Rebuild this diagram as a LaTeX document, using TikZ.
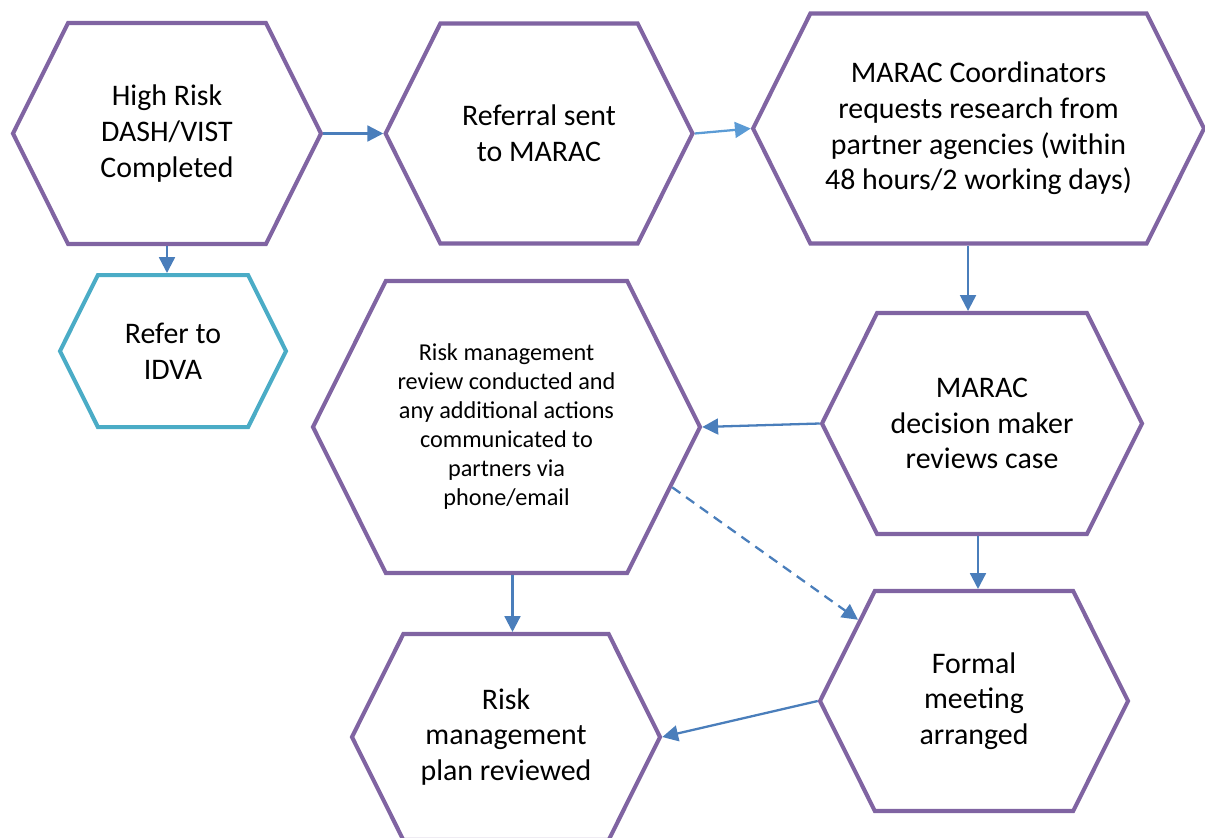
\documentclass[tikz,border=0pt]{standalone}
\usepackage{fontspec}
\setmainfont{Carlito}
\usetikzlibrary{positioning,shapes.symbols,arrows.meta}

\definecolor{hexpurple}{HTML}{8064A2}
\definecolor{hexteal}{HTML}{4BACC6}
\definecolor{linkblue}{HTML}{4A7EBB}
\definecolor{linklight}{HTML}{5B9BD5}

\tikzset{
  hexbox/.style 2 args={signal, signal to=west and east, signal pointer angle=127,
    draw=hexpurple, line width=2.3pt, align=center, inner sep=2pt,
    minimum width=#1, minimum height=#2, font=\fontsize{17}{20.3}\selectfont},
  smalltext/.style={font=\fontsize{13.8}{16.5}\selectfont},
  link/.style={draw=linkblue, line width=1.3pt, -{Triangle[length=9pt,width=9pt]}},
}

\begin{document}
\begin{tikzpicture}
        \useasboundingbox (0,0) rectangle (24.1,-16.74);

        % top row
        \node[hexbox={6.16cm}{4.42cm}] (highrisk) at (3.34,-2.67) {High Risk\\DASH/VIST\\Completed};
        \node[hexbox={6.14cm}{4.40cm}, right = 1.2cm of highrisk] (referral) {Referral sent\\to MARAC};
        \node[hexbox={9.02cm}{4.60cm}, right = 1.12cm of referral, yshift=0.1cm] (coordinators) {MARAC Coordinators\\requests research from\\partner agencies (within\\48 hours/2 working days)};

        \node[hexbox={4.52cm}{3.04cm}, draw=hexteal, below = 0.54cm of highrisk, xshift=0.12cm] (idva) {Refer to\\IDVA};

        % middle and bottom
        \node[hexbox={7.74cm}{5.84cm}, smalltext] (review) at (10.13,-8.54) {Risk management\\review conducted and\\any additional actions\\communicated to\\partners via\\phone/email};
        \node[hexbox={6.40cm}{4.42cm}] (decision) at (19.64,-8.47) {MARAC\\decision maker\\reviews case};
        \node[hexbox={6.16cm}{4.40cm}] (meeting) at (19.48,-14.02) {Formal\\meeting\\arranged};
        \node[hexbox={6.16cm}{4.12cm}] (plan) at (10.12,-14.74) {Risk\\management\\plan reviewed};

        \draw[link] (highrisk.east) -- (referral.west);
        \draw[link, draw=linklight] (referral.east) -- (coordinators.west);
        \draw[link] (highrisk.south) -- (highrisk.south |- idva.north);
        \draw[link] ([xshift=-0.21cm]coordinators.south) -- ([xshift=-0.21cm]coordinators.south |- decision.north);
        \draw[link] (decision.west) -- (review.east);
        \draw[link] ([xshift=-0.08cm]decision.south) -- ([xshift=-0.08cm]decision.south |- meeting.north);
        \draw[link] ([xshift=0.12cm]review.south) -- ([xshift=0.12cm]review.south |- plan.north);
        \draw[link, dash pattern=on 0.2cm off 0.14cm] (review.-20) -- (meeting.145);
        \draw[link] (meeting.west) -- (plan.east);
\end{tikzpicture}
\end{document}
